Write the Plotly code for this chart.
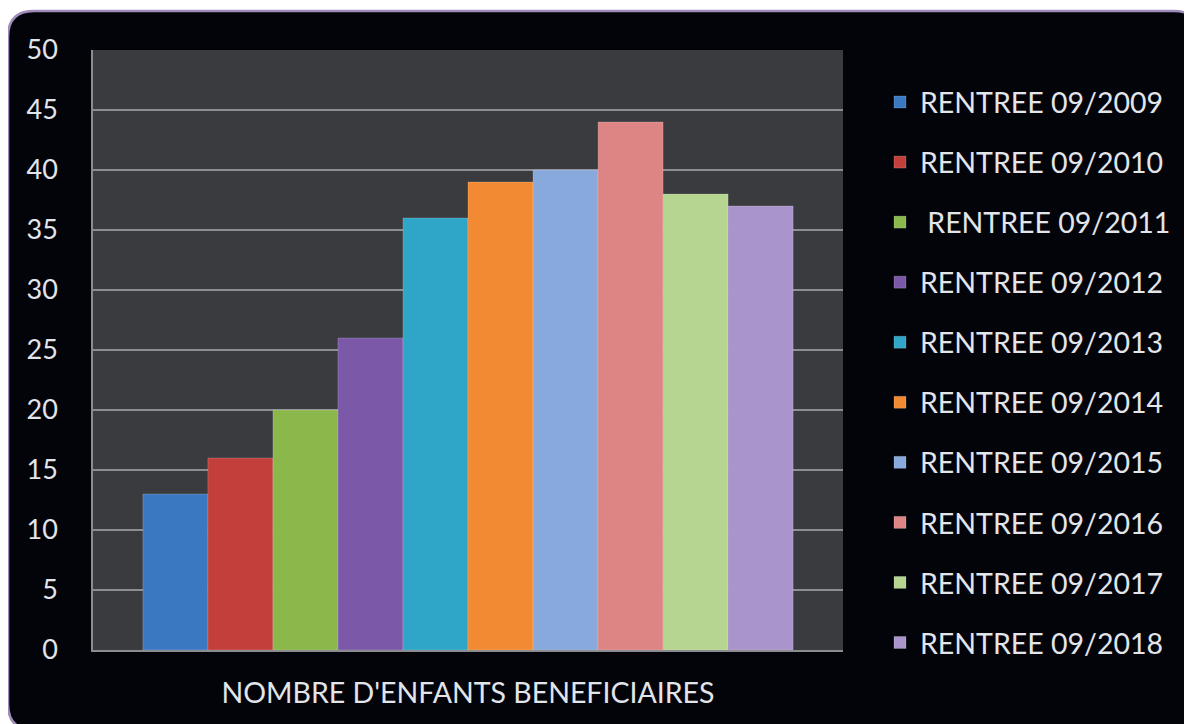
import plotly.graph_objects as go

category = ["NOMBRE D'ENFANTS BENEFICIAIRES"]
series_names = [
    "RENTREE 09/2009", "RENTREE 09/2010", " RENTREE 09/2011", "RENTREE 09/2012",
    "RENTREE 09/2013", "RENTREE 09/2014", "RENTREE 09/2015", "RENTREE 09/2016",
    "RENTREE 09/2017", "RENTREE 09/2018",
]
values = [13, 16, 20, 26, 36, 39, 40, 44, 38, 37]
colors = ["#3B78C2", "#C23F3B", "#8BB84B", "#7B58A8", "#2FA5C7",
          "#F18A32", "#87A9DC", "#DD8585", "#B5D590", "#A995CB"]
y_ticks = [0, 5, 10, 15, 20, 25, 30, 35, 40, 45, 50]

OFF = 8  # page body margin
W, H = 1192 - OFF, 724 - OFF
L, T = 93 - OFF, 50 - OFF
R = 1192 - 843
B = 724 - 650
pw, ph = W - L - R, H - T - B

def px(X):
    return (X - OFF - L) / pw

def py(Y):
    return (H - B - (Y - OFF)) / ph

fig = go.Figure()
for name, v, c in zip(series_names, values, colors):
    fig.add_trace(go.Bar(
        x=category, y=[v], name=name, legendgroup=name,
        marker=dict(color=c, line=dict(color="rgba(255,255,255,0.18)", width=1)),
    ))

# rounded outer panel
x0, x1, y0, y1 = px(8), px(1200), py(730), py(11)
rx, ry = 26 / pw, 26 / ph
path = (f"M {x0+rx},{y1} L {x1-rx},{y1} Q {x1},{y1} {x1},{y1-ry} "
        f"L {x1},{y0+ry} Q {x1},{y0} {x1-rx},{y0} L {x0+rx},{y0} "
        f"Q {x0},{y0} {x0},{y0+ry} L {x0},{y1-ry} Q {x0},{y1} {x0+rx},{y1} Z")
fig.add_shape(type="path", path=path, xref="paper", yref="paper",
              fillcolor="#03030A", line=dict(color="#A08CBA", width=2.5), layer="below")
fig.add_shape(type="rect", xref="x domain", yref="y domain", x0=0, x1=1, y0=0, y1=1,
              fillcolor="#393B3F", line=dict(width=0), layer="below")

fig.update_layout(
    width=W, height=H,
    margin=dict(l=L, r=R, t=T, b=B),
    paper_bgcolor="white",
    plot_bgcolor="rgba(0,0,0,0)",
    barmode="group",
    bargap=0.133,
    bargroupgap=0,
    font=dict(family="Lato", color="#E2E5EA"),
    showlegend=True,
    legend=dict(
        x=px(880), xanchor="left", y=py(77), yanchor="top",
        font=dict(size=28.5, color="#E2E5EA"),
        tracegroupgap=20, traceorder="grouped",
        bgcolor="rgba(0,0,0,0)",
    ),
    xaxis=dict(
        showgrid=False, showline=True, linecolor="#8A8C90", linewidth=1.5,
        tickfont=dict(size=28.5, color="#E2E5EA"), ticks="", ticklabelstandoff=17,
    ),
    yaxis=dict(
        range=[0, 50], tickvals=y_ticks, showgrid=True, gridcolor="#8C8E92", gridwidth=1.5,
        showline=True, linecolor="#8A8C90", linewidth=1.5, zeroline=False,
        tickfont=dict(size=27, color="#E2E5EA"), ticks="", ticklabelstandoff=28,
    ),
)

fig.write_html("out.html")
